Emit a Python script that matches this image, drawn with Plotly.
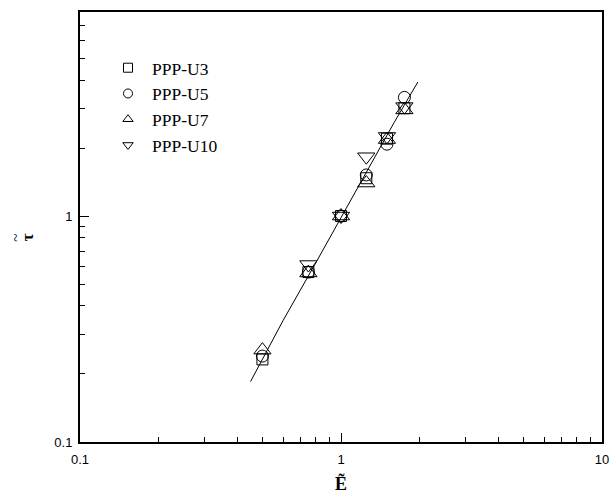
import plotly.graph_objects as go

# Data
E_vals = [0.5, 0.75, 1.0, 1.25, 1.5, 1.75]
tau_U3 = [0.232, 0.565, 1.0, 1.47, 2.2, 3.0]
tau_U5 = [0.24, 0.565, 1.0, 1.52, 2.08, 3.35]
tau_U7 = [0.255, 0.56, 1.0, 1.40, 2.18, 2.95]
tau_U10 = [None, 0.61, 1.0, 1.83, 2.25, 3.05]
fit_E = [0.45, 0.6, 0.8, 1.0, 1.3, 1.6, 1.97]
fit_tau = [0.185, 0.345, 0.62, 0.98, 1.7, 2.6, 3.92]
series_names = ["PPP-U3", "PPP-U5", "PPP-U7", "PPP-U10"]

series = [
    (series_names[0], tau_U3, "square-open", 11),
    (series_names[1], tau_U5, "circle-open", 12),
    (series_names[2], tau_U7, "triangle-up-open", 15),
    (series_names[3], tau_U10, "triangle-down-open", 15),
]

fig = go.Figure()
fig.add_trace(go.Scatter(x=fit_E, y=fit_tau, mode="lines",
                         line=dict(color="black", width=1), showlegend=False))
for name, ys, sym, sz in series:
    xs = [e for e, t in zip(E_vals, ys) if t is not None]
    yv = [t for t in ys if t is not None]
    fig.add_trace(go.Scatter(x=xs, y=yv, mode="markers", name=name, showlegend=False,
                             marker=dict(symbol=sym, size=sz, color="black",
                                         line=dict(color="black", width=1))))
    # legend entry with smaller symbol
    fig.add_trace(go.Scatter(x=[None], y=[None], mode="markers", name=name,
                             legendgroup=name,
                             marker=dict(symbol=sym, size=9, color="black",
                                         line=dict(color="black", width=1))))

minor_x = [0.2, 0.3, 0.4, 0.5, 0.6, 0.7, 0.8, 0.9, 2, 3, 4, 5, 6, 7, 8, 9]
minor_y = [0.2, 0.3, 0.4, 0.5, 0.6, 0.7, 0.8, 0.9, 2, 3, 4, 5, 6, 7]

fig.update_layout(
    width=609, height=494,
    margin=dict(l=80, r=7, t=12, b=52),
    plot_bgcolor="white", paper_bgcolor="white",
    showlegend=True,
    legend=dict(x=0.046, y=0.912, xanchor="left", yanchor="top",
                bgcolor="rgba(0,0,0,0)", borderwidth=0,
                font=dict(family="Liberation Serif", size=17.5, color="black"),
                itemsizing="trace", itemwidth=38,
                traceorder="grouped", tracegroupgap=0),
    xaxis=dict(type="log", range=[-1, 1], showgrid=False, zeroline=False,
               showline=True, linecolor="black", linewidth=2, mirror=True,
               tickvals=[0.1, 1, 10], ticktext=["0.1", "1", "10"],
               ticks="inside", ticklen=9, tickwidth=1, tickcolor="black",
               ticklabelstandoff=4, ticklabeloverflow="allow",
               minor=dict(tickvals=minor_x, ticks="inside", ticklen=5,
                          tickwidth=1, tickcolor="black", showgrid=False),
               tickfont=dict(family="Liberation Sans", size=13, color="black"),
               automargin=False,
               title=dict(text="<b>Ẽ</b>", standoff=18,
                          font=dict(family="Liberation Serif", size=18, color="black"))),
    yaxis=dict(type="log", range=[-1, 0.903], showgrid=False, zeroline=False,
               showline=True, linecolor="black", linewidth=2, mirror=True,
               tickvals=[0.1, 1], ticktext=["0.1", "1"],
               ticks="inside", ticklen=9, tickwidth=1, tickcolor="black",
               ticklabelstandoff=3,
               minor=dict(tickvals=minor_y, ticks="inside", ticklen=5,
                          tickwidth=1, tickcolor="black", showgrid=False),
               tickfont=dict(family="Liberation Sans", size=13, color="black"),
               automargin=False),
    annotations=[
        dict(text="<b>τ</b>", xref="paper", yref="paper", x=0, y=0.475,
             xshift=-64, showarrow=False, textangle=-90,
             font=dict(family="Liberation Serif", size=17, color="black")),
        dict(text="~", xref="paper", yref="paper", x=0, y=0.475,
             xshift=-74, showarrow=False, textangle=-90,
             font=dict(family="Liberation Serif", size=15, color="black")),
    ],
)

fig.write_html("out.html")
